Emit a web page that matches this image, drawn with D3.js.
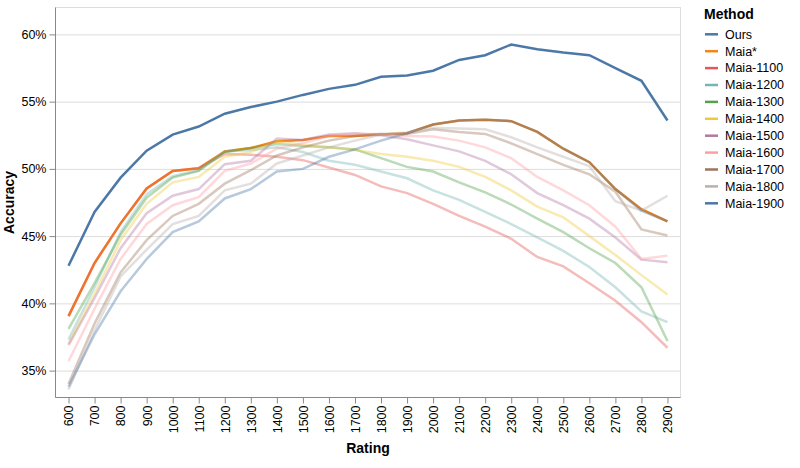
<!DOCTYPE html>
<html>
<head>
<meta charset="utf-8">
<script src="https://cdn.jsdelivr.net/npm/d3@7"></script>
<style>
  body { margin: 0; background: #fff; }
  text { font-family: "Liberation Sans", Arial, sans-serif; }
</style>
</head>
<body>
<svg width="800" height="468"></svg>
<script>
// ratings (x categories)
const ratings = [600, 700, 800, 900, 1000, 1100, 1200, 1300, 1400, 1500, 1600, 1700,
                 1800, 1900, 2000, 2100, 2200, 2300, 2400, 2500, 2600, 2700, 2800, 2900];

// accuracy in %
const ours     = [42.8, 46.8, 49.35, 51.35, 52.55, 53.15, 54.1, 54.6, 55.0, 55.5, 55.95, 56.25,
                  56.85, 56.95, 57.3, 58.1, 58.45, 59.25, 58.9, 58.65, 58.45, 57.5, 56.55, 53.6];
const maiaStar = [39.05, 43.0, 45.95, 48.55, 49.85, 50.05, 51.3, 51.55, 52.05, 52.15, 52.45, 52.45,
                  52.55, 52.65, 53.3, 53.6, 53.65, 53.55, 52.75, 51.5, 50.5, 48.5, 47.0, 46.1];
const maia1100 = [39.05, 43.0, 45.95, 48.55, 49.85, 50.05, 51.1, 51.05, 50.9, 50.65, 50.1, 49.55,
                  48.7, 48.2, 47.4, 46.5, 45.7, 44.8, 43.45, 42.75, 41.5, 40.2, 38.6, 36.7];
const maia1200 = [37.3, 41.2, 45.3, 48.1, 49.45, 49.9, 51.3, 51.4, 51.6, 51.25, 50.6, 50.3,
                  49.8, 49.3, 48.4, 47.7, 46.8, 45.9, 44.9, 43.9, 42.7, 41.2, 39.4, 38.6];
const maia1300 = [38.1, 41.5, 45.1, 47.85, 49.35, 49.85, 51.25, 51.55, 51.85, 51.7, 51.6, 51.45,
                  50.8, 50.15, 49.8, 49.0, 48.25, 47.35, 46.3, 45.3, 44.1, 43.0, 41.2, 37.2];
const maia1400 = [37.0, 40.7, 44.7, 47.4, 49.0, 49.4, 50.9, 51.25, 52.05, 51.8, 51.6, 51.4,
                  51.1, 50.9, 50.6, 50.15, 49.4, 48.4, 47.2, 46.4, 45.0, 43.6, 42.1, 40.65];
const maia1500 = [36.9, 40.4, 44.1, 46.7, 48.0, 48.5, 50.35, 50.6, 52.25, 52.15, 52.55, 52.65,
                  52.5, 52.2, 51.75, 51.3, 50.6, 49.6, 48.2, 47.3, 46.3, 44.9, 43.25, 43.05];
const maia1600 = [35.7, 39.6, 43.3, 45.9, 47.3, 47.9, 49.85, 50.4, 51.5, 51.9, 52.45, 52.6,
                  52.6, 52.45, 52.4, 52.1, 51.6, 50.8, 49.4, 48.4, 47.3, 45.7, 43.3, 43.55];
const maia1700 = [34.0, 38.5, 42.3, 44.7, 46.5, 47.4, 48.9, 49.9, 51.0, 51.6, 52.1, 52.45,
                  52.6, 52.6, 52.95, 52.75, 52.6, 51.9, 51.1, 50.3, 49.6, 48.3, 45.5, 45.05];
const maia1800 = [33.6, 38.0, 42.0, 44.0, 45.9, 46.5, 48.4, 48.9, 50.4, 51.0, 51.6, 52.1,
                  52.55, 52.7, 53.05, 53.0, 52.95, 52.35, 51.6, 50.9, 50.2, 47.6, 46.9, 48.0];
const maia1900 = [33.8, 37.7, 40.9, 43.3, 45.3, 46.1, 47.8, 48.5, 49.8, 50.0, 50.9, 51.45,
                  52.1, 52.65, 53.3, 53.6, 53.65, 53.55, 52.75, 51.5, 50.5, 48.5, 46.9, 46.1];

const methods = ['Ours', 'Maia*', 'Maia-1100', 'Maia-1200', 'Maia-1300', 'Maia-1400',
                 'Maia-1500', 'Maia-1600', 'Maia-1700', 'Maia-1800', 'Maia-1900'];
const seriesValues = [ours, maiaStar, maia1100, maia1200, maia1300, maia1400,
                      maia1500, maia1600, maia1700, maia1800, maia1900];
const colors = ['#4c78a8', '#f58518', '#e45756', '#72b7b2', '#54a24b', '#eeca3b',
                '#b279a2', '#ff9da6', '#9d755d', '#bab0ac', '#4c78a8'];
const yTicks = [0.35, 0.40, 0.45, 0.50, 0.55, 0.60];

let plotLeft   = 55.5,
    plotRight  = 680.5,
    plotTop    = 7.5,
    plotBottom = 397.5;

let svg = d3.select('svg');

let xScale = d3.scalePoint()
               .domain(ratings)
               .range([plotLeft, plotRight])
               .padding(0.5);

let yScale = d3.scaleLinear()
               .domain([0.33, 0.62])
               .range([plotBottom, plotTop]);

let color = d3.scaleOrdinal().domain(methods).range(colors);

//View border
svg.append('rect')
    .attr('x', plotLeft).attr('y', plotTop)
    .attr('width', plotRight - plotLeft).attr('height', plotBottom - plotTop)
    .attr('fill', 'none').attr('stroke', '#ddd');

//Grid
let grid = svg.append('g')
    .attr('transform', `translate(${plotLeft}, 0)`)
    .call(d3.axisLeft(yScale).tickValues(yTicks).tickSize(-(plotRight - plotLeft)).tickFormat(''));
grid.select('.domain').remove();
grid.selectAll('line').attr('stroke', '#ddd');

//Lines
let line = d3.line()
    .x((d, i) => xScale(ratings[i]))
    .y(d => yScale(d / 100));

svg.append('g')
    .selectAll('path')
    .data(methods)
    .enter()
    .append('path')
        .attr('d', (m, i) => line(seriesValues[i]))
        .attr('fill', 'none')
        .attr('stroke', m => color(m))
        .attr('stroke-width', 2.5)
        .attr('stroke-opacity', (m, i) => i < 2 ? 1 : 0.4);

//Axes
let xAxis = svg.append('g')
    .attr('transform', `translate(0, ${plotBottom})`)
    .call(d3.axisBottom(xScale).tickSize(6).tickSizeOuter(0));
xAxis.select('.domain').attr('d', `M${plotLeft},0H${plotRight}`);
xAxis.selectAll('text')
    .attr('transform', 'rotate(-90)')
    .attr('text-anchor', 'end')
    .attr('x', -8)
    .attr('y', 0)
    .attr('dy', '0.35em')
    .attr('font-size', 12.5)
    .attr('fill', '#000');

let yAxis = svg.append('g')
    .attr('transform', `translate(${plotLeft}, 0)`)
    .call(d3.axisLeft(yScale).tickValues(yTicks).tickFormat(d3.format('.0%')).tickSize(6).tickSizeOuter(0));
yAxis.select('.domain').attr('d', `M0,${plotTop}V${plotBottom}`);
yAxis.selectAll('text')
    .attr('font-size', 12.5)
    .attr('x', -9)
    .attr('fill', '#000');

xAxis.selectAll('.domain, .tick line').attr('stroke', '#888');
yAxis.selectAll('.domain, .tick line').attr('stroke', '#888');

//Axis titles
svg.append('text')
    .attr('x', (plotLeft + plotRight) / 2)
    .attr('y', 453)
    .attr('text-anchor', 'middle')
    .attr('font-size', 14)
    .attr('font-weight', 'bold')
    .text('Rating');

svg.append('text')
    .attr('transform', 'rotate(-90)')
    .attr('x', -(plotTop + plotBottom) / 2)
    .attr('y', 14)
    .attr('text-anchor', 'middle')
    .attr('font-size', 14)
    .attr('font-weight', 'bold')
    .text('Accuracy');

//Legend
let legend = svg.append('g').attr('transform', 'translate(704, 0)');
legend.append('text')
    .attr('x', 0)
    .attr('y', 18.5)
    .attr('font-size', 14)
    .attr('font-weight', 'bold')
    .text('Method');

let entry = legend.selectAll('g.entry')
    .data(methods)
    .enter()
    .append('g')
    .attr('class', 'entry')
    .attr('transform', (m, i) => `translate(0, ${34.3 + i * 16.9})`);
entry.append('line')
    .attr('x1', 1).attr('x2', 14)
    .attr('stroke', m => color(m))
    .attr('stroke-width', 2.5);
entry.append('text')
    .attr('x', 21)
    .attr('dy', '0.35em')
    .attr('font-size', 12.5)
    .text(m => m);
</script>
</body>
</html>
